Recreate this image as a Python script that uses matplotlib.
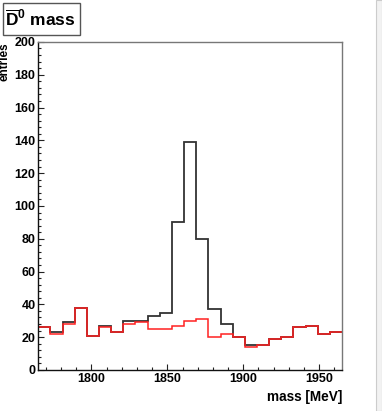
import numpy as np
import matplotlib
matplotlib.use("Agg")
import matplotlib.pyplot as plt
from matplotlib.ticker import MultipleLocator
from matplotlib.patches import Rectangle

# histogram binning: 25 bins of 8 MeV
x_lo = 1765
x_hi = 1965
bin_width = 8

# black: all candidates, red: background-like sample
black_counts = [26, 23, 29, 38, 21, 27, 23, 30, 30, 33, 35, 90, 139, 80,
                37, 28, 20, 15, 15, 19, 20, 26, 27, 22, 23]
red_counts = [26, 22, 28, 38, 21, 26, 23, 28, 29, 25, 25, 27, 30, 31,
              20, 22, 20, 14, 15, 19, 20, 26, 27, 22, 23]

title_text = r"$\mathbf{\overline{D}^{0}}$ mass"
xlabel_text = "mass [MeV]"
ylabel_text = "entries"

plt.rcParams['font.family'] = ['Liberation Sans', 'DejaVu Sans']
plt.rcParams['mathtext.fontset'] = 'custom'
plt.rcParams['mathtext.rm'] = 'Liberation Sans'
plt.rcParams['mathtext.bf'] = 'Liberation Sans:bold'

fig = plt.figure(figsize=(3.82, 4.11), dpi=100)
ax = fig.add_axes([0.1003, 0.0998, 0.795, 0.7982])

edges = np.arange(x_lo, x_hi + 1, bin_width)
ax.stairs(black_counts, edges, color='#333333', linewidth=1.3, baseline=None)
ax.stairs(red_counts, edges, color='#ff2020', linewidth=1.1, baseline=None)

ax.set_xlim(x_lo, x_hi)
ax.set_ylim(0, 200)

ax.xaxis.set_major_locator(MultipleLocator(50))
ax.xaxis.set_minor_locator(MultipleLocator(10))
ax.yaxis.set_major_locator(MultipleLocator(20))
ax.yaxis.set_minor_locator(MultipleLocator(4))
ax.tick_params(which='both', direction='in', top=False, right=False,
               labelsize=9, colors='#222222')
ax.tick_params(which='major', length=4.5, width=0.8, pad=2)
ax.tick_params(which='minor', length=2.3, width=0.8)
for lab in ax.get_xticklabels() + ax.get_yticklabels():
    lab.set_fontweight('bold')
    lab.set_color('black')

for side in ['left', 'bottom']:
    ax.spines[side].set_color('#111111')
    ax.spines[side].set_linewidth(1.0)
for side in ['top', 'right']:
    ax.spines[side].set_color('#777777')
    ax.spines[side].set_linewidth(1.0)

# axis titles, ROOT style: at the ends of the axes
fig.text(0.8953, 0.033, xlabel_text, ha='right', va='center',
         fontsize=9.8, fontweight='bold')
fig.text(0.012, 0.8966, ylabel_text, ha='center', va='top', rotation=90,
         fontsize=8.5, fontweight='bold')

# title box top left
fig.patches.append(Rectangle((2.5 / 382, 1 - 35 / 411), 77 / 382, 32 / 411,
                             transform=fig.transFigure, facecolor='white',
                             edgecolor='#555555', linewidth=1.0))
fig.text(5 / 382, 1 - 19 / 411, title_text, ha='left', va='center',
         fontsize=12.5, fontweight='bold')

# light grey strip at the right edge of the canvas
fig.patches.append(Rectangle((376 / 382, 0), 6 / 382, 1,
                             transform=fig.transFigure, facecolor='#f2f2f2',
                             edgecolor='#cccccc', linewidth=0.8))

fig.savefig("out.png", dpi=100)
